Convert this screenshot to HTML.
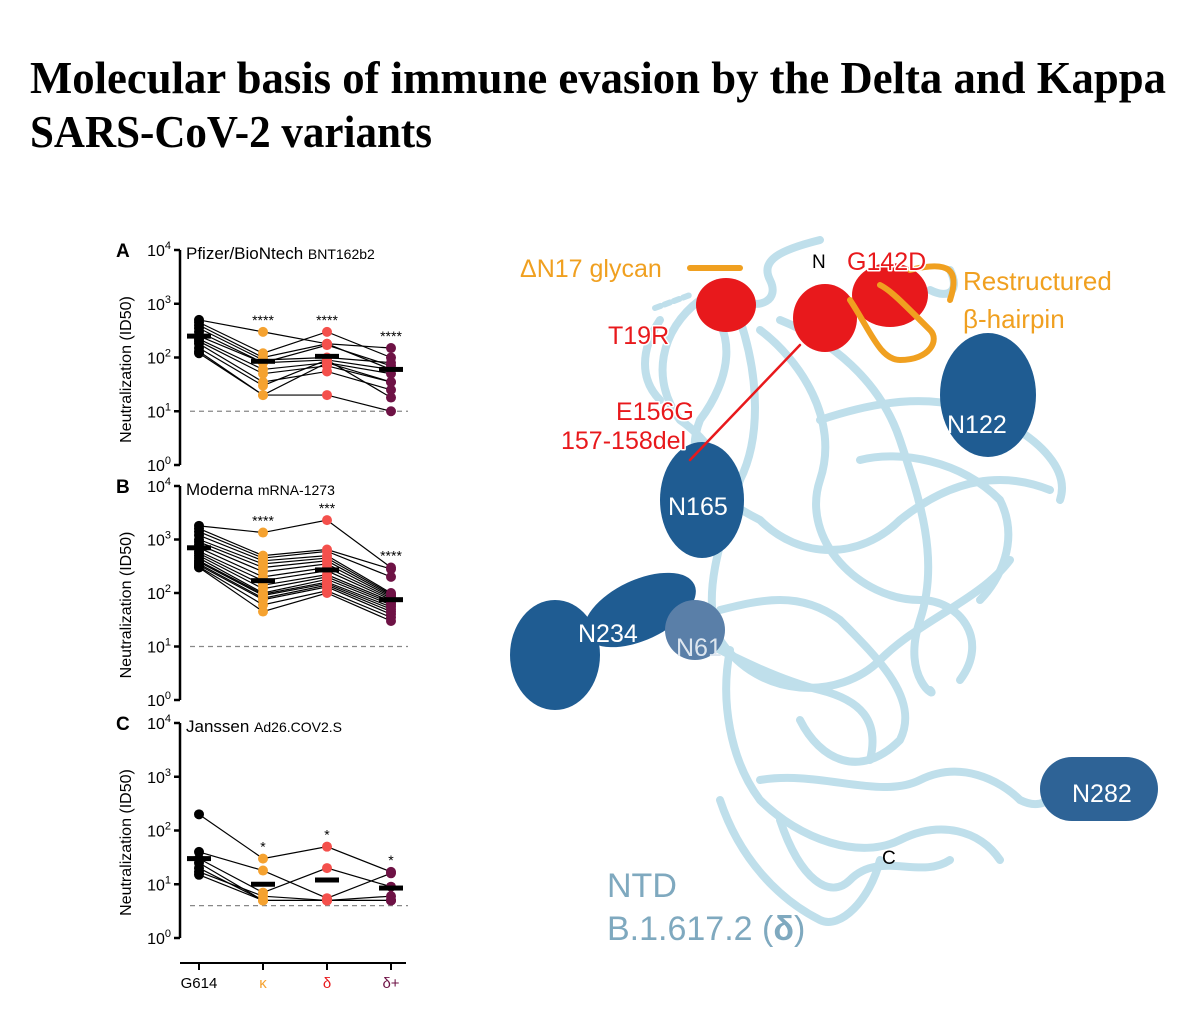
<!DOCTYPE html>
<html><head><meta charset="utf-8"><style>
html,body{margin:0;padding:0;background:#fff;}
svg{display:block;}
</style></head><body>
<svg id="fig" width="1200" height="1021" viewBox="0 0 1200 1021" xmlns="http://www.w3.org/2000/svg">
<g font-family="Liberation Serif, serif" font-weight="bold" font-size="46" fill="#000">
<text x="30" y="93" textLength="1136" lengthAdjust="spacingAndGlyphs">Molecular basis of immune evasion by the Delta and Kappa</text>
<text x="30" y="147" textLength="402" lengthAdjust="spacingAndGlyphs">SARS-CoV-2 variants</text>
</g>
<g id="charts"></g>

<g id="protein" fill="none" stroke-linecap="round" stroke-linejoin="round">
<g stroke="#bfdfeb" stroke-width="8">
<path d="M700 300 C740 330 730 380 700 420 C680 470 720 500 760 520 C800 560 860 560 900 520 C950 480 1000 470 1050 490"/>
<path d="M740 320 C760 380 760 440 740 480 C720 540 700 600 720 640 C760 700 840 700 880 660 C920 620 980 600 1010 560"/>
<path d="M760 330 C800 360 840 420 820 480 C800 540 860 600 920 600 C960 600 990 640 960 680"/>
<path d="M780 320 C830 340 880 380 900 440 C920 500 940 560 920 620 C900 680 940 700 930 690"/>
<path d="M700 300 C660 330 650 380 680 420 C710 440 720 470 740 480"/>
<path d="M720 610 C760 600 800 590 840 620 C880 660 920 700 900 740 C860 780 820 760 800 720"/>
<path d="M730 650 C720 700 730 760 760 800 C800 840 860 860 900 840 C940 820 980 830 1000 860"/>
<path d="M760 780 C820 770 880 800 920 780 C960 760 1000 780 1020 800 C1040 810 1050 800 1060 790"/>
<path d="M720 800 C740 860 780 900 820 920 C840 930 870 900 880 860"/>
<path d="M780 820 C800 880 830 900 850 880 C880 850 920 880 950 860"/>
<path d="M820 240 C780 250 760 260 770 280 C780 300 760 310 740 300"/>
<path d="M930 290 C950 300 960 290 950 270"/>
<path d="M660 320 C640 350 640 380 660 400"/>
<path d="M820 420 C880 400 940 390 1000 420 C1040 440 1070 470 1060 500"/>
<path d="M860 460 C900 450 960 460 1000 500 C1020 540 1000 580 980 600"/>
<path d="M700 640 C740 660 780 680 820 690 C860 700 880 720 870 760"/>
</g>
<g fill="#1f5c92" stroke="none">
<ellipse cx="988" cy="395" rx="48" ry="62"/>
<ellipse cx="702" cy="500" rx="42" ry="58"/>
<ellipse cx="555" cy="655" rx="45" ry="55"/>
<ellipse cx="640" cy="610" rx="60" ry="30" transform="rotate(-25 640 610)"/>
<ellipse cx="695" cy="630" rx="30" ry="30" fill="#5a7fa8"/>
<rect x="1040" y="757" width="118" height="64" rx="32" fill="#2e6396"/>
</g>
<g fill="#e8191c" stroke="none">
<ellipse cx="726" cy="305" rx="30" ry="27"/>
<ellipse cx="825" cy="318" rx="32" ry="34"/>
<ellipse cx="890" cy="295" rx="38" ry="32"/>
</g>
<g stroke="#f0a020" stroke-width="6">
<path d="M850 300 C870 330 880 360 900 360 C930 360 940 340 930 330 C900 300 890 290 880 285"/>
<path d="M910 270 C950 260 960 270 950 300"/>
<path d="M690 268 L740 268"/>
</g>
<path d="M800 345 L690 460" stroke="#e8191c" stroke-width="2.5"/>
<path d="M655 308 L690 295" stroke="#bfdfeb" stroke-width="6" stroke-dasharray="6 4"/>
<g font-family="Liberation Sans, sans-serif" stroke="#fff" stroke-width="3" paint-order="stroke">
<text x="520" y="277" font-size="25" fill="#f0a020">ΔN17 glycan</text>
<text x="812" y="268" font-size="19" fill="#000">N</text>
<text x="847" y="270" font-size="25" fill="#e8191c">G142D</text>
<text x="963" y="290" font-size="26" fill="#f0a020">Restructured</text>
<text x="963" y="328" font-size="26" fill="#f0a020">β-hairpin</text>
<text x="608" y="344" font-size="25" fill="#e8191c">T19R</text>
<text x="616" y="420" font-size="25" fill="#e8191c">E156G</text>
<text x="561" y="449" font-size="25" fill="#e8191c">157-158del</text>
<g stroke="none">
<text x="947" y="433" font-size="25" fill="#fff">N122</text>
<text x="668" y="515" font-size="25" fill="#fff">N165</text>
<text x="578" y="642" font-size="25" fill="#fff">N234</text>
<text x="676" y="656" font-size="25" fill="#dde6ef">N61</text>
<text x="1072" y="802" font-size="25" fill="#fff">N282</text>
<text x="882" y="864" font-size="19" fill="#000">C</text>
<text x="607" y="897" font-size="34" fill="#7fa9bf">NTD</text>
<text x="607" y="940" font-size="34" fill="#7fa9bf">B.1.617.2 (<tspan font-weight="bold">δ</tspan>)</text>
</g>
</g>
</g>
</svg>
<script>
// categories
const categories = ["G614", "κ", "δ", "δ+"];
const catColors = ["#000000", "#f5a230", "#f4504c", "#6e1245"];
// tick labels (log10 exponents)
const tickExponents = [0, 1, 2, 3, 4];
// panel A: Pfizer, each row = one subject across categories
const pfizerSubjects = [
  [500,300,180,150],[450,120,300,100],[400,100,180,60],[350,90,100,80],
  [300,80,170,70],[250,80,90,60],[220,60,80,50],[200,50,70,35],
  [180,35,55,25],[150,30,90,18],[130,20,20,10],[120,20,80,35]];
const pfizerMeans = [250, 85, 105, 60];
const pfizerStars = ["", "****", "****", "****"];
// panel B: Moderna
const modernaSubjects = [
  [1800,1350,2300,300],[1600,500,650,280],[1400,450,600,200],[1200,400,500,100],
  [1000,350,450,95],[900,300,400,90],[800,250,350,85],[700,200,300,80],
  [600,170,260,75],[550,140,220,70],[500,120,200,65],[450,100,180,60],
  [400,95,160,55],[380,90,150,50],[350,80,140,45],[330,75,130,40],
  [310,60,110,35],[300,45,100,30]];
const modernaMeans = [700, 170, 270, 75];
const modernaStars = ["", "****", "***", "****"];
// panel C: Janssen
const janssenSubjects = [
  [200,30,50,17],[40,18,5.5,16],[30,7,20,9],[25,5,5,6],[20,5,5,5],[17,6,5,5],[15,5,5,5]];
const janssenMeans = [30, 10, 12, 8.5];
const janssenStars = ["", "*", "*", "*"];
// limit of detection per panel
const detectionLimits = [10, 10, 4];

const panels = [
  {key:"A", brand:"Pfizer/BioNtech", product:"BNT162b2", subjects:pfizerSubjects, means:pfizerMeans, stars:pfizerStars, top:250, bottom:465},
  {key:"B", brand:"Moderna", product:"mRNA-1273", subjects:modernaSubjects, means:modernaMeans, stars:modernaStars, top:486, bottom:700},
  {key:"C", brand:"Janssen", product:"Ad26.COV2.S", subjects:janssenSubjects, means:janssenMeans, stars:janssenStars, top:723, bottom:938}
];
const NS = "http://www.w3.org/2000/svg";
const root = document.getElementById("charts");
const axisX = 180, catX0 = 199, catStep = 64;
function xScale(i){ return catX0 + i*catStep; }
function mk(tag, attrs, parent){
  const e = document.createElementNS(NS, tag);
  for (const k in attrs) e.setAttribute(k, attrs[k]);
  parent.appendChild(e); return e;
}
panels.forEach((p, pi) => {
  const yScale = v => p.bottom - (Math.log10(v)/4)*(p.bottom - p.top);
  const g = mk("g", {}, root);
  
  
  const ax = mk("line", {x1:axisX, y1:p.top, x2:axisX, y2:p.bottom, stroke:"#000", "stroke-width":2.5}, g);
  
  
  tickExponents.forEach(e => {
    const y = yScale(Math.pow(10, e));
    const t = mk("line", {x1:axisX-6, y1:y, x2:axisX, y2:y, stroke:"#000", "stroke-width":2.5}, g);
    
    
    const lab = mk("text", {x:axisX-9, y:y+6, "text-anchor":"end", "font-family":"Liberation Sans, sans-serif", "font-size":16, fill:"#000"}, g);
    
    
    lab.textContent = "10";
    const sup = mk("tspan", {dy:-7, "font-size":11}, lab);
    sup.textContent = String(e);
  });
  const yt = mk("text", {x:0, y:0, transform:"translate(131 " + ((p.top+p.bottom)/2+12) + ") rotate(-90)", "text-anchor":"middle", "font-family":"Liberation Sans, sans-serif", "font-size":16, fill:"#000"}, g);
  
  
  yt.textContent = "Neutralization (ID50)";
  const pl = mk("text", {x:116, y:p.top+7, "font-family":"Liberation Sans, sans-serif", "font-size":19, "font-weight":"bold", fill:"#000"}, g);
  
  
  pl.textContent = p.key;
  const tt = mk("text", {x:186, y:p.top+9, "font-family":"Liberation Sans, sans-serif", "font-size":17, fill:"#000"}, g);
  
  
  tt.textContent = p.brand + " ";
  const ts = mk("tspan", {"font-size":14}, tt);
  ts.textContent = p.product;
  const ly = yScale(detectionLimits[pi]);
  const dl = mk("line", {x1:190, y1:ly, x2:408, y2:ly, stroke:"#888", "stroke-width":1.2, "stroke-dasharray":"5 4"}, g);
  
  
  p.subjects.forEach(s => {
    const pts = s.map((v,i)=> xScale(i)+","+yScale(v)).join(" ");
    const pl2 = mk("polyline", {points:pts, fill:"none", stroke:"#000", "stroke-width":1.2}, g);
    
    
  });
  p.subjects.forEach(s => {
    s.forEach((v,i) => {
      const c = mk("circle", {cx:xScale(i), cy:yScale(v), r:5, fill:catColors[i]}, g);
      
      
    });
  });
  p.means.forEach((v,i) => {
    const m = mk("rect", {x:xScale(i)-12, y:yScale(v)-2.5, width:24, height:5, fill:"#000"}, g);
    
    
  });
  p.stars.forEach((st,i) => {
    if (!st) return;
    const maxV = Math.max(...p.subjects.map(s=>s[i]));
    const t = mk("text", {x:xScale(i), y:yScale(maxV)-7, "text-anchor":"middle", "font-family":"Liberation Sans, sans-serif", "font-size":14, fill:"#000"}, g);
    
    
    t.textContent = st;
  });
});
const xa = mk("line", {x1:180, y1:963, x2:406, y2:963, stroke:"#000", "stroke-width":2}, root);


categories.forEach((c,i) => {
  const t = mk("line", {x1:xScale(i), y1:963, x2:xScale(i), y2:970, stroke:"#000", "stroke-width":2}, root);
  
  
  const l = mk("text", {x:xScale(i), y:988, "text-anchor":"middle", "font-family":"Liberation Sans, sans-serif", "font-size":15, fill: i===0 ? "#000" : (i===2 ? "#e8191c" : catColors[i])}, root);
  
  
  l.textContent = c;
});
</script>
</body></html>
